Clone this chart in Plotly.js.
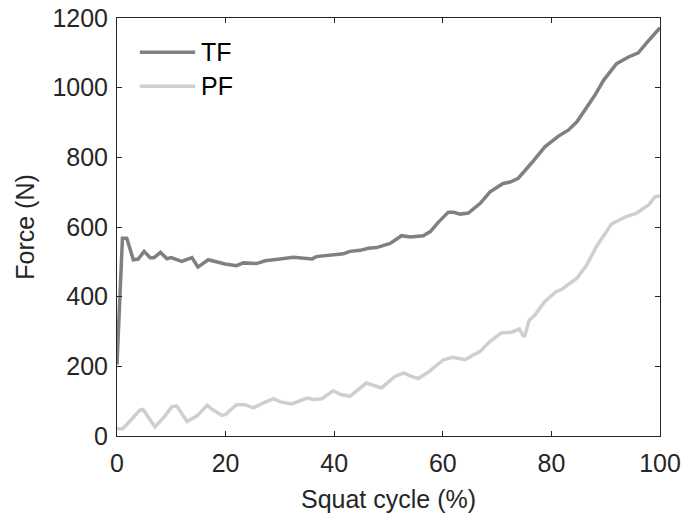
<!DOCTYPE html>
<html>
<head>
<meta charset="utf-8">
<script src="https://cdn.plot.ly/plotly-3.0.1.min.js"></script>
<style>html,body{margin:0;padding:0;background:#fff;}#chart{width:686px;height:523px;}</style>
</head>
<body>
<div id="chart"></div>
<script>
const tfX = [0, 1.0, 1.8, 3.0, 3.9, 5.0, 6.1, 6.8, 8.0, 9.2, 10.0, 11.9, 13.8, 14.9, 16.8, 19.9, 22.0, 23.3, 25.7, 27.3, 30.0, 32.5, 35.9, 36.7, 41.7, 42.9, 44.8, 46.3, 47.8, 50.3, 52.4, 54.0, 56.4, 57.7, 59.2, 61.0, 62.0, 63.2, 64.7, 66.9, 68.7, 71.1, 72.4, 73.9, 76.3, 78.8, 81.3, 83.1, 84.7, 86.2, 88.0, 89.6, 92.0, 94.2, 96.0, 97.5, 100];
const tfY = [205, 568, 568, 506, 508, 530, 512, 512, 527, 509, 512, 501, 512, 485, 506, 494, 489, 497, 495, 503, 508, 513, 508, 515, 523, 530, 533, 539, 541, 553, 575, 571, 575, 587, 614, 642, 642, 637, 640, 668, 701, 725, 729, 740, 783, 830, 861, 878, 902, 936, 978, 1021, 1069, 1088, 1100, 1128, 1172];
const pfX = [0, 1.0, 1.8, 3.0, 4.2, 4.8, 5.8, 7.0, 8.8, 10.1, 11.0, 12.9, 14.7, 16.6, 17.6, 19.3, 20.0, 22.0, 23.6, 25.1, 27.0, 28.8, 30.1, 32.2, 35.0, 36.2, 37.7, 39.8, 41.2, 42.9, 45.9, 47.2, 48.7, 51.2, 52.8, 54.2, 55.5, 57.3, 60.1, 61.8, 64.1, 65.2, 66.9, 68.7, 70.8, 72.7, 74.1, 74.8, 75.1, 75.9, 77.0, 78.8, 80.9, 81.8, 83.1, 84.7, 86.5, 88.3, 91.1, 93.8, 95.7, 97.9, 99.1, 100];
const pfY = [21, 21, 33, 52, 74, 76, 52, 26, 57, 84, 86, 42, 57, 88, 76, 59, 62, 90, 90, 81, 95, 107, 98, 92, 109, 105, 107, 130, 119, 114, 152, 145, 138, 171, 181, 171, 165, 183, 219, 226, 219, 229, 243, 272, 296, 298, 307, 288, 288, 332, 348, 386, 415, 420, 434, 453, 491, 544, 609, 630, 640, 663, 687, 690];
const xTicks = [0, 20, 40, 60, 80, 100];
const yTicks = [0, 200, 400, 600, 800, 1000, 1200];
const seriesNames = ['TF', 'PF'];
const seriesColors = ['#808080', '#cfcfcf'];

const font = {family: 'Liberation Sans, Arial, sans-serif', size: 25, color: '#262626'};
const axisCommon = {
  showline: true, linecolor: '#262626', linewidth: 1, mirror: 'ticks',
  ticks: 'inside', ticklen: 5, tickwidth: 1, tickcolor: '#262626',
  showgrid: false, zeroline: false, tickfont: font
};

const data = [
  {x: tfX, y: tfY, name: seriesNames[0], type: 'scatter', mode: 'lines', line: {color: seriesColors[0], width: 3.5}, showlegend: false},
  {x: pfX, y: pfY, name: seriesNames[1], type: 'scatter', mode: 'lines', line: {color: seriesColors[1], width: 3.5}, showlegend: false}
];

// legend drawn as key samples + labels
const legY = [0.918, 0.837];
const shapes = seriesNames.map((n, i) => ({type: 'line', xref: 'paper', yref: 'paper', x0: 0.042, x1: 0.144, y0: legY[i], y1: legY[i], line: {color: seriesColors[i], width: 3.5}}));
const annotations = seriesNames.map((n, i) => ({text: n, xref: 'paper', yref: 'paper', x: 0.151, y: legY[i], xanchor: 'left', yanchor: 'middle', showarrow: false, font: {family: font.family, size: 25, color: '#000'}}));

const layout = {
  width: 686, height: 523,
  margin: {l: 117, r: 26, t: 18, b: 86.5, pad: 0},
  paper_bgcolor: '#fff', plot_bgcolor: '#fff',
  font: font,
  xaxis: Object.assign({}, axisCommon, {range: [0, 100], tickvals: xTicks, ticktext: xTicks.map(String), ticklabelstandoff: 5,
    title: {text: 'Squat cycle (%)', font: font, standoff: 14}}),
  yaxis: Object.assign({}, axisCommon, {range: [0, 1200], tickvals: yTicks, ticktext: yTicks.map(String), ticklabelstandoff: 3,
    title: {text: 'Force (N)', font: font, standoff: 10}}),
  showlegend: false,
  shapes: shapes,
  annotations: annotations
};

Plotly.newPlot('chart', data, layout, {displayModeBar: false, staticPlot: true});
</script>
</body>
</html>
